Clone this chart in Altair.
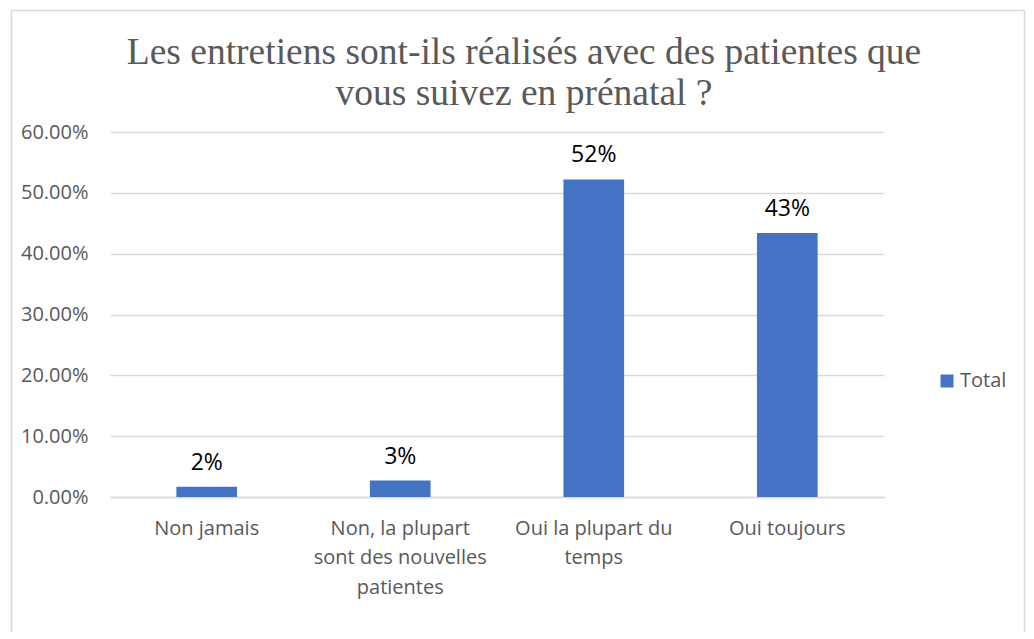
import altair as alt
import pandas as pd

categories = [
    "Non jamais",
    "Non, la plupart\nsont des nouvelles\npatientes",
    "Oui la plupart du\ntemps",
    "Oui toujours",
]
values = [0.017, 0.027, 0.522, 0.434]
series = ["Total", "Total", "Total", "Total"]
title_lines = ["Les entretiens sont-ils réalisés avec des patientes que",
               "vous suivez en prénatal ?"]

df = pd.DataFrame({"cat": categories, "val": values, "serie": series})

GRID = "#d9d9d9"
LABEL = "#595959"
BLUE = "#4472C4"

x_enc = alt.X(
    "cat:N",
    sort=categories,
    title=None,
    scale=alt.Scale(paddingInner=0.6865, paddingOuter=0.343),
    axis=alt.Axis(
        labelAngle=0,
        labelExpr="split(datum.label, '\\n')",
        labelFont="Open Sans",
        labelFontSize=20,
        labelColor=LABEL,
        labelLineHeight=29.5,
        labelPadding=21,
        ticks=False,
        tickSize=0,
        domainColor=GRID,
        domainWidth=1.5,
        grid=False,
        labelLimit=300,
    ),
)

y_enc = alt.Y(
    "val:Q",
    title=None,
    scale=alt.Scale(domain=[0, 0.6], nice=False),
    axis=alt.Axis(
        format=".2%",
        values=[0, 0.1, 0.2, 0.3, 0.4, 0.5, 0.6],
        labelFont="Open Sans",
        labelFontSize=20,
        labelColor=LABEL,
        labelPadding=22,
        ticks=False,
        tickSize=0,
        domain=False,
        gridColor=GRID,
        gridWidth=1.5,
    ),
)

bars = alt.Chart(df).mark_bar(color=BLUE).encode(
    x=x_enc,
    y=y_enc,
    color=alt.Color(
        "serie:N",
        scale=alt.Scale(range=[BLUE]),
        legend=alt.Legend(
            title=None,
            orient="none",
            legendX=827,
            legendY=239,
            symbolType="square",
            symbolSize=169,
            symbolStrokeWidth=0,
            labelFont="Open Sans",
            labelFontSize=20,
            labelColor=LABEL,
            labelOffset=3,
        ),
    ),
)

labels = alt.Chart(df).mark_text(
    baseline="bottom", dy=-12, font="Open Sans", fontSize=23, color="#000000"
).encode(
    x=alt.X("cat:N", sort=categories),
    y="val:Q",
    text=alt.Text("val:Q", format=".0%"),
)

border = alt.Chart(alt.Data(values=[{"a": 1}])).mark_rect(
    filled=False, stroke=GRID, strokeWidth=1.5
).encode(
    x=alt.value(-98.5), x2=alt.value(914.5), y=alt.value(-121.5), y2=alt.value(600)
)

title = alt.Chart(alt.Data(values=[{"t": title_lines}])).mark_text(
    font="Liberation Serif",
    fontSize=37.5,
    color=LABEL,
    lineHeight=41,
    align="center",
    baseline="alphabetic",
).encode(
    x=alt.value(414),
    y=alt.value(-68),
    text="t:N",
)

chart = alt.layer(border, bars, labels, title).properties(
    width=774,
    height=365,
    autosize="none",
    padding={"left": 102, "top": 124, "right": 142, "bottom": 135},
).configure_view(stroke=None)

chart.save("out.html", embed_options={"renderer": "svg", "actions": False})
